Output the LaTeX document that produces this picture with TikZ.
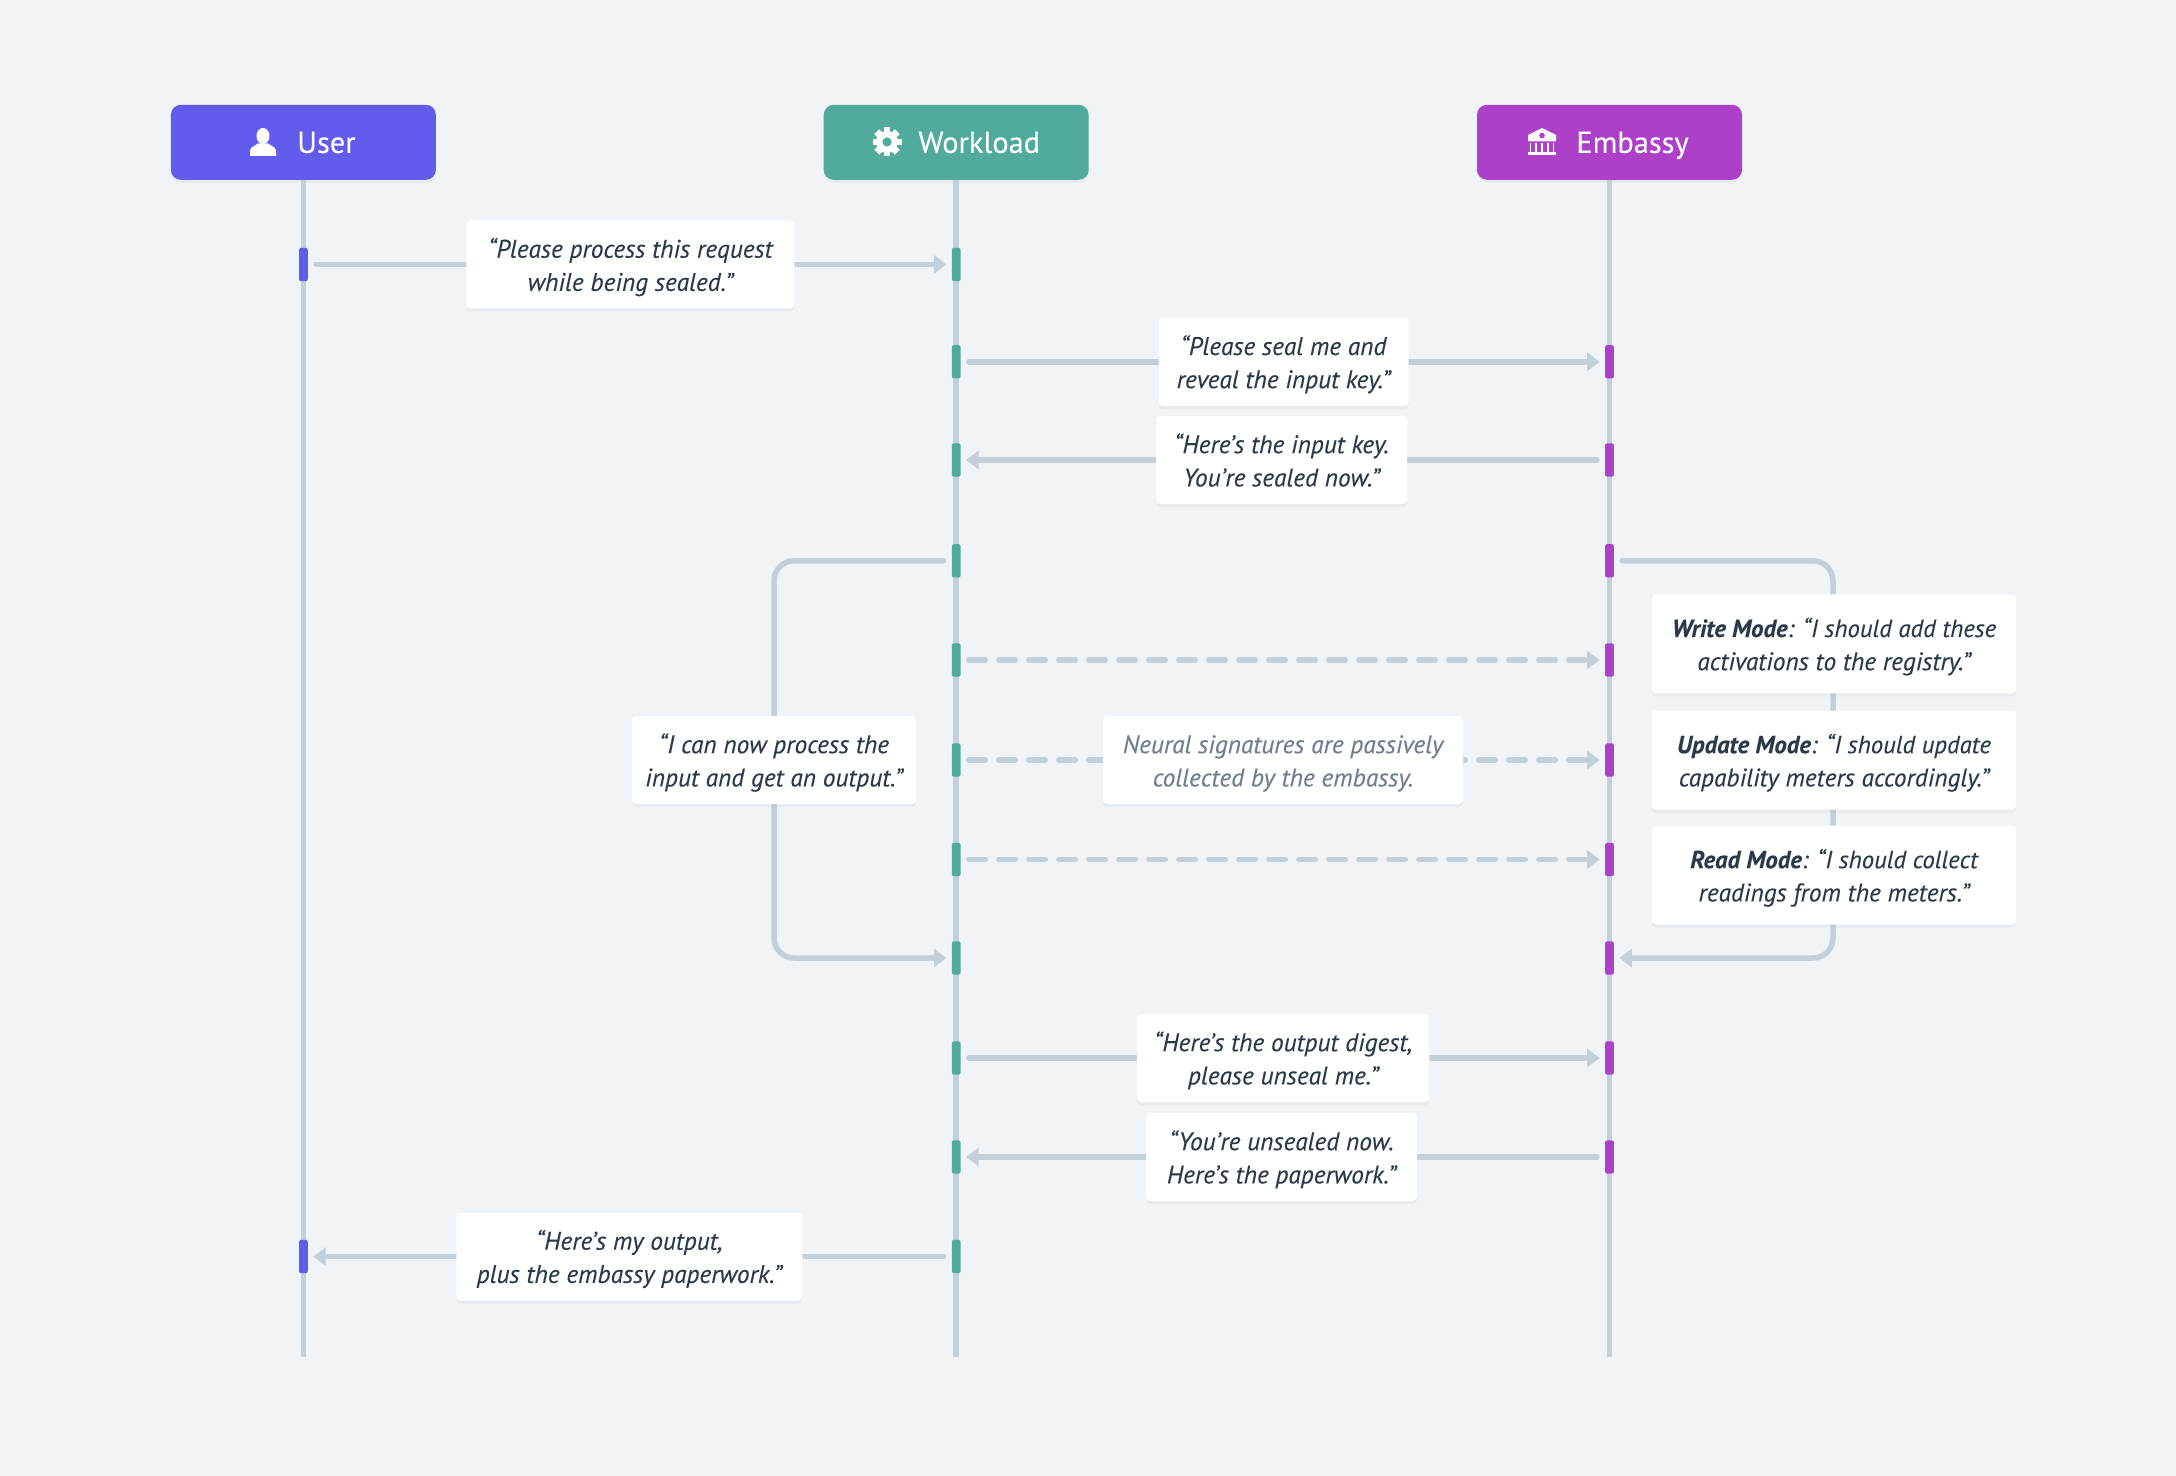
\documentclass[tikz,border=0pt]{standalone}
\usepackage{fontspec}
\setmainfont{PT Sans}
\usepackage{tikz}
\usetikzlibrary{arrows.meta, shadows}

\definecolor{bgcolor}{HTML}{F0F4F7}
\definecolor{linecolor}{HTML}{C3CFD9}
\definecolor{usercolor}{HTML}{635BEC}
\definecolor{workcolor}{HTML}{51AB9D}
\definecolor{embcolor}{HTML}{AD40C8}
\definecolor{inkcolor}{HTML}{2A3A4A}
\definecolor{softcolor}{HTML}{6F7F8F}

\def\modehead#1#2{{\fontsize{12.4}{16.6}\selectfont\textbf{#1}#2}}

\tikzset{
    softshadow/.style={drop shadow={opacity=0.07, shadow xshift=0pt, shadow yshift=-1.5pt}},
    head/.style={rounded corners=5pt, minimum width=132.5pt, minimum height=37.5pt, inner sep=0pt,
        text=white, text height=10.6pt, text depth=0pt,
        font=\fontsize{15.2}{17}\selectfont\addfontfeature{FakeBold=0.15}, softshadow},
    act/.style={rounded corners=1pt, minimum width=4.4pt, minimum height=16.6pt, inner sep=0pt, outer sep=0pt},
    msg/.style={fill=white, rounded corners=2pt, inner sep=0pt, align=center, text=inkcolor,
        text height=31.4pt, text depth=5pt,
        font=\fontsize{12.7}{16.6}\selectfont\itshape\addfontfeature{FakeBold=0.1}, softshadow},
    flow/.style={linecolor, line width=2.75pt, line cap=round, shorten <=4.1pt, shorten >=2.75pt,
        -{Triangle[length=6.2pt, width=9pt]}},
    flowdash/.style={flow, dash pattern=on 8.25pt off 6.75pt},
    loopline/.style={linecolor, line width=2.75pt, line cap=round, rounded corners=10pt, shorten <=4.1pt},
}

\begin{document}
\begin{tikzpicture}[x=0.5pt, y=-0.5pt]
    \fill[bgcolor] (0,0) rectangle (2176,1476);
    \useasboundingbox (0,0) rectangle (2176,1476);

    \def\xuser{303.4}
    \def\xwork{956.2}
    \def\xemb{1609.5}

    % lifelines
    \node[head, fill=usercolor] (user) at (\xuser,142.3) {\hspace*{23pt}User};
    \node[head, fill=workcolor] (work) at (\xwork,142.3) {\hspace*{23pt}Workload};
    \node[head, fill=embcolor] (emb) at (\xemb,142.3) {\hspace*{23pt}Embassy};
    \coordinate (userend) at (\xuser,1357);
    \coordinate (workend) at (\xwork,1357);
    \coordinate (embend) at (\xemb,1357);
    \foreach \lane/\laneend in {user/userend, work/workend, emb/embend}
    {
        \draw[linecolor, line width=2.75pt] (\lane.south) -- (\laneend);
    }

    % icons
    \begin{scope}[shift={(263,142)}]
        \fill[white] (0,-6) ellipse (6.5 and 8);
        \fill[white] (-13,14) -- (-13,9) .. controls (-13,5) and (-8,4) .. (-5,1.5)
            -- (5,1.5) .. controls (8,4) and (13,5) .. (13,9) -- (13,14) -- cycle;
    \end{scope}
    \begin{scope}[shift={(887,142)}]
        \fill[white] (0,0) circle (11);
        \foreach \a in {0,45,...,315}
        {
            \fill[white, rotate=\a] (-3.4,-14.5) rectangle (3.4,-7);
        }
        \fill[workcolor] (0,0) circle (4.6);
    \end{scope}
    \begin{scope}[shift={(1542,142)}]
        \fill[white] (0,-14) -- (14,-7) -- (14,-0.5) -- (-14,-0.5) -- (-14,-7) -- cycle;
        \fill[embcolor] (0,-6.5) circle (2.8);
        \foreach \x in {-11.5,-5.8,0,5.8,11.5}
        {
            \fill[white] (\x-0.9,1.5) rectangle (\x+0.9,10.5);
        }
        \fill[white] (-14,10.5) rectangle (14,13.5);
    \end{scope}

    % activations
    \foreach \name/\px/\py/\co in {
        u1/\xuser/264.5/usercolor,
        u11/\xuser/1256.5/usercolor,
        w1/\xwork/264.5/workcolor,
        w2/\xwork/361.8/workcolor,
        w3/\xwork/460/workcolor,
        w4/\xwork/560.8/workcolor,
        w5/\xwork/660/workcolor,
        w6/\xwork/760/workcolor,
        w7/\xwork/859.5/workcolor,
        w8/\xwork/958/workcolor,
        w9/\xwork/1058/workcolor,
        w10/\xwork/1157/workcolor,
        w11/\xwork/1256.5/workcolor,
        e2/\xemb/361.8/embcolor,
        e3/\xemb/460/embcolor,
        e4/\xemb/560.8/embcolor,
        e5/\xemb/660/embcolor,
        e6/\xemb/760/embcolor,
        e7/\xemb/859.5/embcolor,
        e8/\xemb/958/embcolor,
        e9/\xemb/1058/embcolor,
        e10/\xemb/1157/embcolor}{

        \node[act, fill=\co] (\name) at (\px,\py) {};
    }

    % messages
    \foreach \tail/\tip in {u1.east/w1.west, w2.east/e2.west, e3.west/w3.east,
        w9.east/e9.west, e10.west/w10.east, w11.west/u11.east}
    {
        \draw[flow] (\tail) -- (\tip);
    }
    \foreach \tail/\tip in {w5.east/e5.west, w6.east/e6.west, w7.east/e7.west}
    {
        \draw[flowdash] (\tail) -- (\tip);
    }

    % loops
    \coordinate (loopwork) at (774,760);
    \coordinate (loopemb) at (1833,760);
    \draw[loopline, -{Triangle[length=6.2pt, width=9pt]}, shorten >=2.75pt] (w4.west) -| (loopwork) |- (w8.west);
    \draw[loopline, -{Triangle[length=6.2pt, width=9pt]}, shorten >=2.75pt] (e4.east) -| (loopemb) |- (e8.east);

    % labels
    \foreach \name/\px/\py/\bw/\bh/\body in {
        m1/630.4/264.5/164/44/{“Please process this request\\while being sealed.”},
        m2/1283.5/361.8/125/44/{“Please seal me and\\reveal the input key.”},
        m3/1281.5/460/125.5/44/{“Here’s the input key.\\You’re sealed now.”},
        m9/1283.2/1058/146/44/{“Here’s the output digest,\\please unseal me.”},
        m10/1281.5/1157/135.5/44/{“You’re unsealed now.\\Here’s the paperwork.”},
        m11/629.3/1256.5/173/44/{“Here’s my output,\\plus the embassy paperwork.”},
        loopnote/774/760/142/44/{“I can now process the\\input and get an output.”}}{

        \node[msg, minimum width=\bw pt, minimum height=\bh pt] (\name) at (\px,\py) {\body};
    }
    \node[msg, text=softcolor, minimum width=180pt, minimum height=44pt] (passive) at (1283,760)
        {Neural signatures are passively\\collected by the embassy.};
    \node[msg, minimum width=182pt, minimum height=49.5pt] (writemode) at (1834,643.8)
        {\modehead{Write Mode}{: “I should add these}\\activations to the registry.”};
    \node[msg, minimum width=182pt, minimum height=49.5pt] (updatemode) at (1834,760)
        {\modehead{Update Mode}{: “I should update}\\capability meters accordingly.”};
    \node[msg, minimum width=182pt, minimum height=49.5pt] (readmode) at (1834,875)
        {\modehead{Read Mode}{: “I should collect}\\readings from the meters.”};
\end{tikzpicture}
\end{document}
